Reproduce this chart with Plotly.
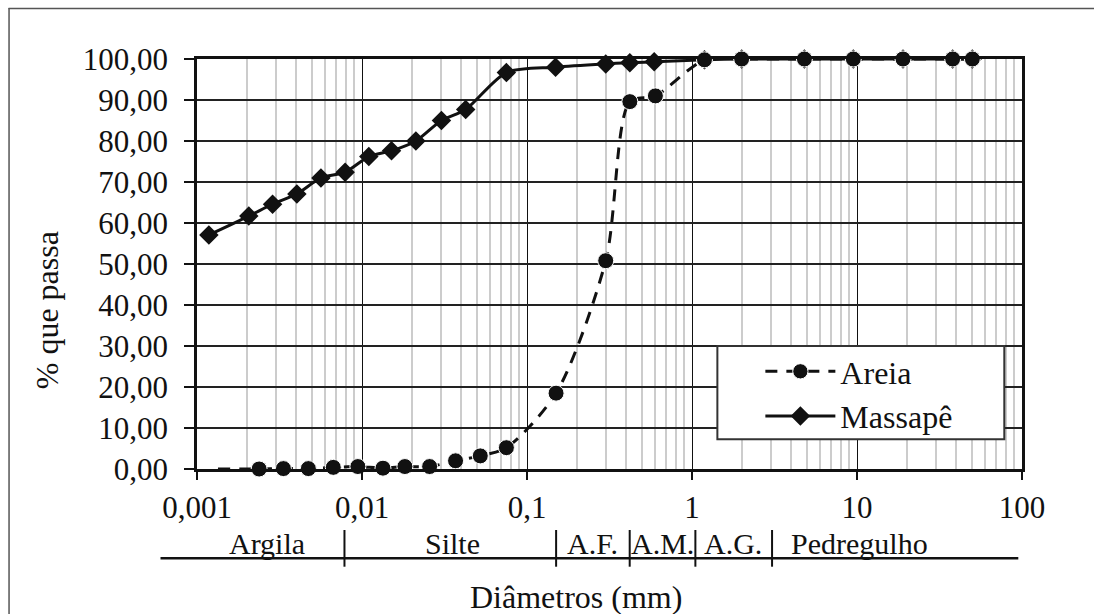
import plotly.graph_objects as go

# ---------------- data ----------------
areia_d = [0.00134, 0.00238, 0.00334, 0.00473, 0.0067, 0.00944, 0.0134, 0.0182, 0.0257,
           0.0369, 0.0521, 0.075, 0.15, 0.30, 0.42, 0.60, 1.19, 2.0, 4.8, 9.5, 19, 38, 50]
areia_p = [0.0, 0.0, 0.1, 0.1, 0.4, 0.6, 0.2, 0.6, 0.6,
           2.0, 3.2, 5.2, 18.5, 50.8, 89.6, 91.0, 99.8, 100, 100, 100, 100, 100, 100]

massape_d = [0.00118, 0.00206, 0.00287, 0.00403, 0.00564, 0.0079, 0.0110, 0.0151, 0.0212,
             0.0303, 0.0425, 0.075, 0.149, 0.30, 0.42, 0.59, 1.19, 2.0, 4.8, 9.5, 19, 38, 50]
massape_p = [57.1, 61.7, 64.6, 67.1, 71.0, 72.4, 76.2, 77.6, 80.0,
             85.0, 87.7, 96.7, 98.0, 98.8, 99.1, 99.3, 99.8, 100, 100, 100, 100, 100, 100]

x_tickvals = [0.001, 0.01, 0.1, 1, 10, 100]
x_ticktext = ["0,001", "0,01", "0,1", "1", "10", "100"]
y_tickvals = [0, 10, 20, 30, 40, 50, 60, 70, 80, 90, 100]
y_ticktext = ["0,00", "10,00", "20,00", "30,00", "40,00", "50,00",
              "60,00", "70,00", "80,00", "90,00", "100,00"]

classes = ["Argila", "Silte", "A.F.", "A.M.", "A.G.", "Pedregulho"]

# ---------------- layout geometry (pixels) ----------------
W, H = 1094, 614
L, R, T, B = 196.5, 1021.7, 59, 469


def px_x(p):
    return (p - L) / (R - L)


def px_y(p):
    return (B - p) / (B - T)


FONT = "Liberation Serif, Times New Roman, serif"
FS = 32
FS_CLASS = 30
FS_TICK = 31
INK = "#111111"

minor_vals = [m * 10 ** e for e in range(-3, 2) for m in range(2, 10)]

fig = go.Figure()

fig.add_trace(go.Scatter(
    x=massape_d, y=massape_p, name="Massapê", mode="lines+markers",
    line=dict(color=INK, width=3, shape="spline", smoothing=0.8),
    marker=dict(symbol="diamond", size=15, color=INK, opacity=1),
    cliponaxis=False,
))

fig.add_trace(go.Scatter(
    x=areia_d, y=areia_p, name="Areia", mode="lines+markers",
    line=dict(color=INK, width=3, dash="12px,9px", shape="spline", smoothing=0.8),
    marker=dict(symbol="circle", size=[0] + [16] * (len(areia_d) - 1), color=INK, opacity=1),
    cliponaxis=False,
))

shapes = []
# legend box (white, covers grid)
shapes.append(dict(type="rect", xref="paper", yref="paper", layer="above",
                   x0=px_x(717), x1=px_x(1004), y0=px_y(346), y1=px_y(439.3),
                   fillcolor="white", line=dict(color="#333333", width=2)))
# classification line and dividers
shapes.append(dict(type="line", xref="paper", yref="paper",
                   x0=px_x(160), x1=px_x(1018), y0=px_y(558.3), y1=px_y(558.3),
                   line=dict(color=INK, width=2.5)))
for dx in [344, 555.7, 629.3, 695, 771.7]:
    shapes.append(dict(type="line", xref="paper", yref="paper",
                       x0=px_x(dx), x1=px_x(dx), y0=px_y(530), y1=px_y(566.7),
                       line=dict(color=INK, width=2)))
# outer chart border (top and left visible)
shapes.append(dict(type="line", xref="paper", yref="paper",
                   x0=px_x(8), x1=px_x(1100), y0=px_y(8.5), y1=px_y(8.5),
                   line=dict(color="#555555", width=1.5)))
shapes.append(dict(type="line", xref="paper", yref="paper",
                   x0=px_x(8.5), x1=px_x(8.5), y0=px_y(8), y1=px_y(620),
                   line=dict(color="#555555", width=1.5)))

annotations = []
class_x = [266.7, 451.7, 592, 662, 733, 859]
for name, cx in zip(classes, class_x):
    annotations.append(dict(text=name, x=px_x(cx), y=px_y(543), xref="paper", yref="paper",
                            showarrow=False, xanchor="center", yanchor="middle",
                            font=dict(family=FONT, size=FS_CLASS, color=INK)))
annotations.append(dict(text="Diâmetros (mm)", x=px_x(576), y=px_y(597), xref="paper", yref="paper",
                        showarrow=False, xanchor="center", yanchor="middle",
                        font=dict(family=FONT, size=FS, color=INK)))
annotations.append(dict(text="% que passa", x=px_x(46.7), y=px_y(310), xref="paper", yref="paper",
                        showarrow=False, xanchor="center", yanchor="middle", textangle=-90,
                        font=dict(family=FONT, size=FS, color=INK)))

fig.update_layout(
    width=W, height=H,
    margin=dict(l=L, r=W - R, t=T, b=H - B, pad=0),
    paper_bgcolor="white", plot_bgcolor="white",
    font=dict(family=FONT, size=FS_TICK, color=INK),
    showlegend=True,
    legend=dict(x=px_x(760), y=px_y(344), xanchor="left", yanchor="top",
                bgcolor="rgba(0,0,0,0)", borderwidth=0,
                font=dict(family=FONT, size=FS, color=INK),
                itemwidth=70, itemsizing="trace", traceorder="reversed",
                tracegroupgap=0),
    shapes=shapes, annotations=annotations,
)

fig.update_xaxes(
    type="log", range=[-3, 2],
    tickmode="array", tickvals=x_tickvals, ticktext=x_ticktext,
    ticks="outside", ticklen=8, tickwidth=1.5, tickcolor=INK,
    tickfont=dict(family=FONT, size=FS_TICK, color=INK),
    showgrid=True, gridcolor=INK, gridwidth=1.2,
    showline=True, linecolor=INK, linewidth=2.5, mirror=True,
    zeroline=False, ticklabelstandoff=1,
    minor=dict(tickmode="array", tickvals=minor_vals, showgrid=True,
               gridcolor="#cccccc", gridwidth=1.5, ticks=""),
)
fig.update_yaxes(
    range=[0, 100],
    tickmode="array", tickvals=y_tickvals, ticktext=y_ticktext,
    ticks="outside", ticklen=10, tickwidth=1.5, tickcolor=INK,
    tickfont=dict(family=FONT, size=FS_TICK, color=INK),
    showgrid=True, gridcolor="#222222", gridwidth=1.5,
    showline=True, linecolor=INK, linewidth=2.5, mirror=True,
    zeroline=False, ticklabelstandoff=10,
)

fig.write_html("out.html")
